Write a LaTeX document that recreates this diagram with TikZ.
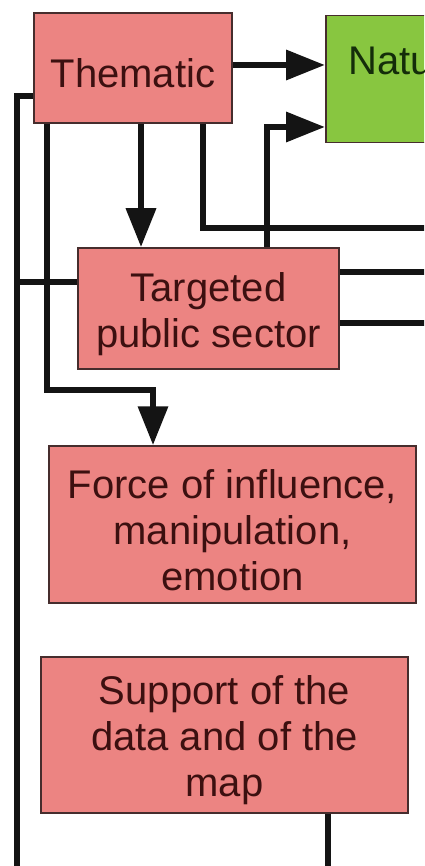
\documentclass[tikz,border=0pt]{standalone}
\usepackage{fontspec}
\setmainfont{Liberation Sans}
\usetikzlibrary{arrows.meta}
\definecolor{boxpink}{RGB}{236,132,130}
\definecolor{boxgreen}{RGB}{136,198,64}
\definecolor{txtred}{RGB}{60,16,16}
\definecolor{txtgreen}{RGB}{20,45,10}
\definecolor{edgec}{RGB}{70,45,45}
\newcommand\mytoppad{\rule{0pt}{40pt}}
\begin{document}
\begin{tikzpicture}[x=1pt,y=-1pt,
  pbox/.style={draw=edgec, line width=1.5pt, fill=boxpink, text=txtred,
    font=\fontsize{40}{46}\selectfont, align=center, inner sep=0pt},
  gbox/.style={draw=edgec, line width=1.5pt, fill=boxgreen},
  conn/.style={line width=6.5pt, draw=black!92},
  arr/.style={conn, -{Triangle[length=39pt,width=29pt]}}]
\useasboundingbox (0,0) rectangle (424,866);
\clip (0,0) rectangle (424,866);
\fill[white] (0,0) rectangle (424,866);

\node[pbox, minimum width=198pt, minimum height=110pt] (them) at (133,68) {\mytoppad Thematic};
\node[gbox, minimum width=220pt, minimum height=127pt, anchor=north west] (nat) at (325,15) {};
\node[font=\fontsize{40}{46}\selectfont, text=txtgreen, anchor=base west, inner sep=0pt] (natt) at (348,75) {Natu};
\node[pbox, minimum width=261pt, minimum height=121pt] (targ) at (208.5,308.5) {\mytoppad Targeted\\public sector};
\node[pbox, minimum width=367pt, minimum height=157pt] (force) at (232.5,524.5) {\mytoppad Force of influence,\\manipulation,\\emotion};
\node[pbox, minimum width=367pt, minimum height=156pt] (supp) at (224.5,735) {\mytoppad Support of the\\data and of the\\map};

\coordinate (t1) at (267,127);
\coordinate (r1) at (440,228);
\coordinate (f1) at (153,390);
\coordinate (l1) at (17,96);
\coordinate (b1) at (17,880);
\coordinate (r2) at (440,272);
\coordinate (r3) at (440,323);
\coordinate (b2) at (328,880);

\draw[arr] (them.east |- 0,65) -- (nat.west |- 0,65);
\draw[arr] (targ.north -| t1) -- (t1) -- (nat.west |- t1);
\draw[arr] (them.south -| 141,0) -- (targ.north -| 141,0);
\draw[conn] (them.south -| 203,0) |- (r1);
\draw[arr] (them.south -| 47,0) |- (f1) -- (force.north -| f1);
\draw[conn] (them.west |- l1) -- (l1) -- (b1);
\draw[conn] (targ.west |- 0,282) -- (l1 |- 0,282);
\draw[conn] (targ.east |- r2) -- (r2);
\draw[conn] (targ.east |- r3) -- (r3);
\draw[conn] (supp.south -| b2) -- (b2);
\end{tikzpicture}
\end{document}
